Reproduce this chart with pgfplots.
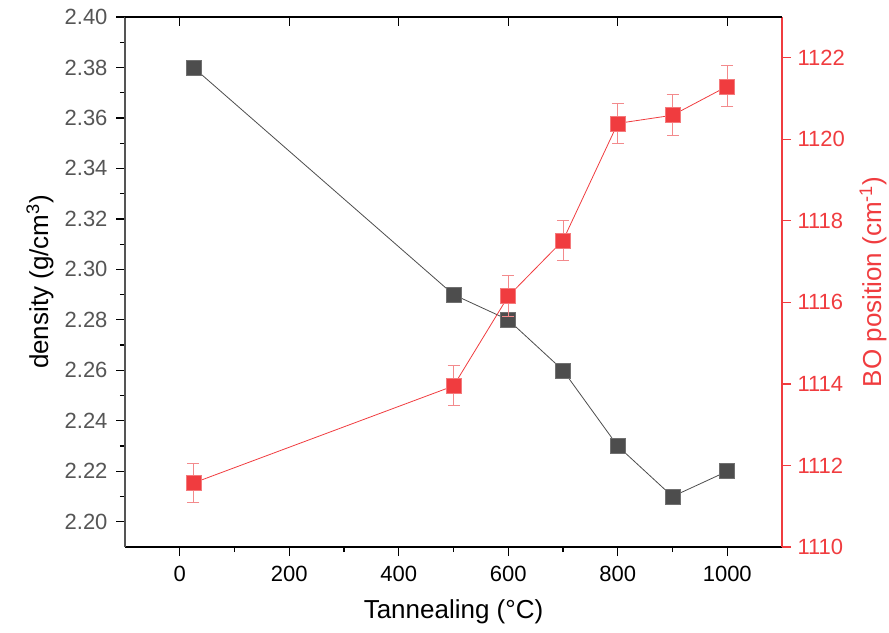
\documentclass[border=0pt]{standalone}
\usepackage{pgfplots}
\pgfplotsset{compat=1.18}
\usepackage{fontspec}
\setmainfont{Liberation Sans}
\definecolor{dk}{HTML}{4D4D4D}
\definecolor{dkedge}{HTML}{707070}
\definecolor{rd}{HTML}{F03C3F}
\definecolor{rdedge}{HTML}{F47A7C}
\definecolor{errc}{HTML}{F38A8C}
\definecolor{axg}{HTML}{555555}
\begin{document}
\begin{tikzpicture}
\pgfplotsset{
  common/.style={
    scale only axis, width=657bp, height=530bp,
    xmin=-100, xmax=1100,
    tick align=outside,
    major tick length=9bp, minor tick length=5bp,
    tick style={line width=1.2bp},
    axis line style={line width=1.2bp},
    tick label style={font=\fontsize{22bp}{26bp}\selectfont},
    /pgf/number format/assume math mode=true,
    /pgf/number format/1000 sep={},
  }
}
\begin{axis}[common, name=main,
  axis x line*=bottom, axis y line*=left,
  ymin=2.19, ymax=2.40,
  xtick={0,200,...,1000}, minor x tick num=1,
  ytick={2.20,2.22,...,2.405}, minor y tick num=1,
  yticklabel style={/pgf/number format/fixed, /pgf/number format/fixed zerofill, /pgf/number format/precision=2, text=axg, xshift=-5bp},
  xticklabel style={yshift=-7bp},
  y axis line style={draw=axg}, x axis line style={draw=black},
  tick style={black},
  every axis x label/.style={at={(axis description cs:0.5,0)}, anchor=center, yshift=-65bp, font=\fontsize{26bp}{31bp}\selectfont},
  every axis y label/.style={at={(axis description cs:0,0.5)}, xshift=-85bp, rotate=90, anchor=center, font=\fontsize{26bp}{31bp}\selectfont},
  xlabel={Tannealing (°C)},
  ylabel={density (g/cm\textsuperscript{3})},
]
\addplot[color=dk, line width=0.8bp, mark=square*, mark size=7.5bp,
  mark options={fill=dk, draw=dkedge, line width=0.6bp}]
  coordinates {(25,2.38) (500,2.29) (600,2.28) (700,2.26) (800,2.23) (900,2.21) (1000,2.22)};
\end{axis}
\begin{axis}[common,
  axis x line=none, axis y line*=right,
  ymin=1110, ymax=1123,
  ytick={1110,1112,...,1122}, minor y tick num=1,
  y axis line style={draw=rd}, tick style={rd},
  yticklabel style={text=rd, xshift=3bp},
  every axis y label/.style={at={(axis description cs:1,0.5)}, xshift=91bp, rotate=90, anchor=center, font=\fontsize{26bp}{31bp}\selectfont},
  ylabel={BO position (cm\textsuperscript{-1})}, ylabel style={text=rd},
]
\addplot[color=rd, line width=0.8bp, mark=square*, mark size=7.5bp,
  mark options={fill=rd, draw=rdedge, line width=0.6bp},
  error bars/.cd, y dir=both, y explicit,
  error bar style={draw=errc, line width=1bp},
  error mark options={rotate=90, draw=errc, mark size=6bp, line width=1bp}]
  coordinates {
    (25,1111.57) +- (0,0.49)
    (500,1113.95) +- (0,0.49)
    (600,1116.15) +- (0,0.5)
    (700,1117.52) +- (0,0.5)
    (800,1120.39) +- (0,0.5)
    (900,1120.59) +- (0,0.5)
    (1000,1121.30) +- (0,0.5)
  };
\end{axis}
\begin{axis}[common,
  axis x line*=top, axis y line=none, tick align=inside,
  ymin=0, ymax=1,
  xtick={0,200,...,1000}, xticklabels={}, minor x tick num=0,
  x axis line style={draw=black}, tick style={black},
]
\end{axis}
\pgfresetboundingbox
\path[use as bounding box] ([shift={(-125bp,-86bp)}]main.south west) rectangle ([shift={(107bp,17bp)}]main.north east);
\end{tikzpicture}
\end{document}
